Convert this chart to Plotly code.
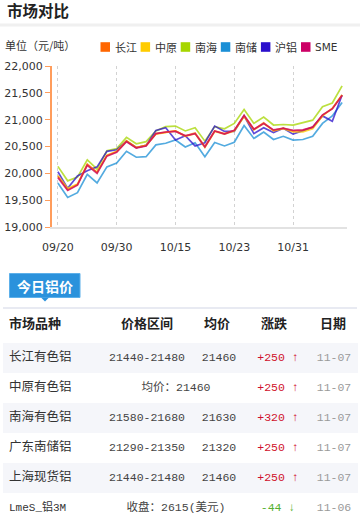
import plotly.graph_objects as go

# ---------------- data ----------------
dates = ["09/20", "09/23", "09/24", "09/25", "09/26", "09/27", "09/30",
         "10/08", "10/09", "10/10", "10/11", "10/14", "10/15",
         "10/16", "10/17", "10/18", "10/21", "10/22", "10/23",
         "10/24", "10/25", "10/28", "10/29", "10/30", "10/31",
         "11/01", "11/04", "11/05", "11/06", "11/07"]
tick_labels = ["09/20", "09/30", "10/15", "10/23", "10/31"]
y_ticks = [19000, 19500, 20000, 20500, 21000, 21500, 22000]

changjiang = [19940, 19690, 19790, 20170, 20020, 20330, 20400, 20600, 20480, 20520,
              20740, 20770, 20790, 20700, 20750, 20500, 20790, 20740, 20800, 21070,
              20820, 20940, 20800, 20840, 20790, 20800, 20860, 21080, 21210, 21460]
zhongyuan = [19960, 19720, 19800, 20160, 20010, 20340, 20410, 20610, 20480, 20520,
             20730, 20760, 20790, 20690, 20740, 20480, 20780, 20730, 20790, 21060,
             20810, 20930, 20790, 20830, 20770, 20770, 20830, 21070, 21210, 21460]
nanhai = [20130, 19860, 19930, 20250, 20080, 20420, 20460, 20670, 20550, 20590,
          20790, 20870, 20880, 20790, 20850, 20600, 20870, 20830, 20930, 21190,
          20930, 21050, 20900, 20910, 20900, 20940, 20990, 21240, 21310, 21630]
nanchu = [19820, 19550, 19640, 19980, 19820, 20120, 20190, 20410, 20300, 20310,
          20530, 20560, 20620, 20490, 20570, 20310, 20575, 20510, 20580, 20890,
          20650, 20770, 20630, 20690, 20620, 20630, 20690, 20930, 21070, 21320]
hulv = [20030, 19720, 19950, 20050, 20120, 20410, 20440, 20600, 20480, 20520,
        20800, 20850, 20620, 20700, 20510, 20570, 20880, 20780, 20780, 21070,
        20740, 20850, 20760, 20840, 20730, 20800, 20860, 21070, 20970, 21460]
sme = [19920, 19680, 19780, 20150, 20000, 20320, 20390, 20590, 20470, 20510,
       20740, 20770, 20780, 20700, 20740, 20490, 20790, 20730, 20800, 21080,
       20820, 20930, 20810, 20840, 20800, 20810, 20860, 21090, 21200, 21450]

series_names = ["长江", "中原", "南海", "南储", "沪铝", "SME"]

# table data
header = ["市场品种", "价格区间", "均价", "涨跌", "日期"]
markets = ["长江有色铝", "中原有色铝", "南海有色铝", "广东南储铝", "上海现货铝", "LmeS_铝3M"]
price_ranges = ["21440-21480", None, "21580-21680", "21290-21350", "21440-21480", None]
avg_prices = [21460, 21460, 21630, 21320, 21460, None]
changes = [250, 250, 320, 250, 250, -44]
quote_dates = ["11-07", "11-07", "11-07", "11-07", "11-07", "11-06"]
lme_close = 2615

# ---------------- styles ----------------
colors = {"长江": "#FF6600", "中原": "#FFCC00", "南海": "#A6D600",
          "南储": "#1A8FD6", "沪铝": "#2A0FCC", "SME": "#CC0066"}
values = {"长江": changjiang, "中原": zhongyuan, "南海": nanhai,
          "南储": nanchu, "沪铝": hulv, "SME": sme}
draw_order = ["南储", "南海", "沪铝", "中原", "长江", "SME"]

W, H = 360, 520
CJK = "Noto Sans CJK SC"
MONO = "Liberation Mono, Noto Sans CJK SC"
AX_FONT = "DejaVu Sans"


def px(x):
    return x / W


def py(y):
    return 1 - y / H


fig = go.Figure()

for name in draw_order:
    fig.add_trace(go.Scatter(
        x=dates, y=values[name], name=name, mode="lines",
        line=dict(color=colors[name], width=1.7), opacity=0.75,
        showlegend=False, hoverinfo="skip"))

# ---------------- table via text on a helper axis ----------------
HEADER_Y = 325
ROW0_Y = 358
ROW_H = 30
COL_X = {"market": 9, "range": 147, "avg": 219, "chg": 278, "date": 334, "merged": 176}
row_y = [ROW0_Y + ROW_H * i for i in range(len(markets))]

common = dict(mode="text", xaxis="x2", yaxis="y2", hoverinfo="skip", showlegend=False)

fig.add_trace(go.Scatter(
    x=[COL_X["market"], COL_X["range"], COL_X["avg"] - 2, COL_X["chg"] - 4, COL_X["date"] - 1],
    y=[HEADER_Y] * len(header), text=header,
    textposition=["middle right", "middle center", "middle center", "middle center", "middle center"],
    textfont=dict(family=CJK, size=13, color="#222", weight="bold"), **common))

fig.add_trace(go.Scatter(
    x=[COL_X["market"]] * len(markets), y=row_y, text=markets,
    textposition="middle right",
    textfont=dict(family=[CJK] * 5 + [MONO], size=[12.5] * 5 + [11], color="#333"),
    **common))

rx, rt = [], []
for i, pr in enumerate(price_ranges):
    if pr is not None:
        rx.append(COL_X["range"])
        rt.append(pr)
    elif avg_prices[i] is not None:
        rx.append(COL_X["merged"])
        rt.append(f"均价：{avg_prices[i]}")
    else:
        rx.append(COL_X["merged"])
        rt.append(f"收盘：{lme_close}(美元)")
fig.add_trace(go.Scatter(
    x=rx, y=row_y, text=rt, textposition="middle center",
    textfont=dict(family=MONO, size=11.5, color="#444"), **common))

ay, at = [], []
for i, pr in enumerate(price_ranges):
    if pr is not None:
        ay.append(row_y[i])
        at.append(str(avg_prices[i]))
fig.add_trace(go.Scatter(
    x=[COL_X["avg"]] * len(ay), y=ay, text=at, textposition="middle center",
    textfont=dict(family=MONO, size=11.5, color="#444"), **common))

ct = [(f"+{c} ↑" if c > 0 else f"{c} ↓") for c in changes]
cc = ["#D0112B" if c > 0 else "#55B030" for c in changes]
fig.add_trace(go.Scatter(
    x=[COL_X["chg"]] * len(changes), y=row_y, text=ct, textposition="middle center",
    textfont=dict(family=MONO, size=11.5, color=cc), **common))

fig.add_trace(go.Scatter(
    x=[COL_X["date"]] * len(quote_dates), y=row_y, text=quote_dates,
    textposition="middle center",
    textfont=dict(family=MONO, size=11.5, color="#9a9a9a"), **common))

shapes = []
for i in range(0, len(markets), 2):
    shapes.append(dict(type="rect", xref="x2", yref="y2", x0=3, x1=358,
                       y0=row_y[i] - ROW_H / 2, y1=row_y[i] + ROW_H / 2,
                       fillcolor="#F5F6FA", line=dict(width=0), layer="below"))
shapes.append(dict(type="line", xref="paper", yref="paper", x0=0, x1=1,
                   y0=py(25), y1=py(25), line=dict(color="#F0F0F0", width=3)))
shapes.append(dict(type="line", xref="paper", yref="paper", x0=px(3), x1=px(357),
                   y0=py(308), y1=py(308), line=dict(color="#E8EAF2", width=2)))
shapes.append(dict(type="rect", xref="paper", yref="paper", x0=px(9.5), x1=px(80),
                   y0=py(297.5), y1=py(273.5), fillcolor="#2B92DC",
                   line=dict(color="#5DB0EA", width=1)))
shapes.append(dict(type="path", xref="paper", yref="paper",
                   path=f"M {px(41)} {py(297.5)} L {px(49)} {py(297.5)} L {px(45)} {py(301.5)} Z",
                   fillcolor="#2B92DC", line=dict(width=0)))

annotations = [
    dict(text="<b>市场对比</b>", x=px(5), y=py(10), xref="paper", yref="paper",
         xanchor="left", yanchor="middle", showarrow=False,
         font=dict(family=CJK, size=15.5, color="#222")),
    dict(text="单位（元/吨）", x=px(3), y=py(45), xref="paper", yref="paper",
         xanchor="left", yanchor="middle", showarrow=False,
         font=dict(family=CJK, size=11, color="#333")),
    dict(text="<b>今日铝价</b>", x=px(45), y=py(285.5), xref="paper", yref="paper",
         xanchor="center", yanchor="middle", showarrow=False,
         font=dict(family=CJK, size=14, color="#FFFFFF")),
]

LEG_X0, LEG_STEP, LEG_Y = 100.5, 40.1, 47
for i, name in enumerate(series_names):
    x0 = LEG_X0 + LEG_STEP * i
    shapes.append(dict(type="rect", xref="paper", yref="paper",
                       x0=px(x0), x1=px(x0 + 9.5), y0=py(LEG_Y + 4.8), y1=py(LEG_Y - 4.8),
                       fillcolor=colors[name], line=dict(width=0)))
    annotations.append(dict(text=name, x=px(x0 + 12), y=py(LEG_Y), xref="paper", yref="paper",
                            xanchor="left", yanchor="middle", showarrow=False,
                            font=dict(family=CJK if name != "SME" else "DejaVu Sans",
                                      size=11 if name != "SME" else 10.5, color="#333")))

fig.update_layout(
    width=W, height=H, margin=dict(l=0, r=0, t=0, b=0, pad=0, autoexpand=False),
    paper_bgcolor="white", plot_bgcolor="white",
    showlegend=False, shapes=shapes, annotations=annotations,
    xaxis=dict(domain=[px(52), px(347)], type="category",
               categoryorder="array", categoryarray=dates,
               range=[-0.6, 29.5], tickvals=tick_labels, ticktext=tick_labels,
               showgrid=True, griddash="dot", gridcolor="#D2D2D2", gridwidth=1,
               showline=True, linecolor="#E2E2E2", linewidth=2,
               ticks="", ticklabelstandoff=9, zeroline=False, automargin=False,
               tickfont=dict(family=AX_FONT, size=11, color="#333"), fixedrange=True),
    yaxis=dict(domain=[py(227), py(66)], range=[19000, 22000], tickvals=y_ticks,
               tickformat=",d", showgrid=False, zeroline=False, automargin=False,
               showline=True, linecolor="#FF9D5C", linewidth=2,
               ticks="outside", ticklen=5, tickcolor="#FF9D5C", tickwidth=1,
               tickfont=dict(family=AX_FONT, size=11, color="#333"), fixedrange=True),
    xaxis2=dict(domain=[0, 1], range=[0, W], visible=False, anchor="y2",
                automargin=False, fixedrange=True),
    yaxis2=dict(domain=[0, py(300)], range=[H, 300], visible=False, anchor="x2",
                automargin=False, fixedrange=True),
)

fig.write_html(
    "out.html",
    config={"displayModeBar": False},
    post_script="document.body.style.margin='0';document.body.style.padding='0';"
                "document.body.style.overflow='hidden';",
)
